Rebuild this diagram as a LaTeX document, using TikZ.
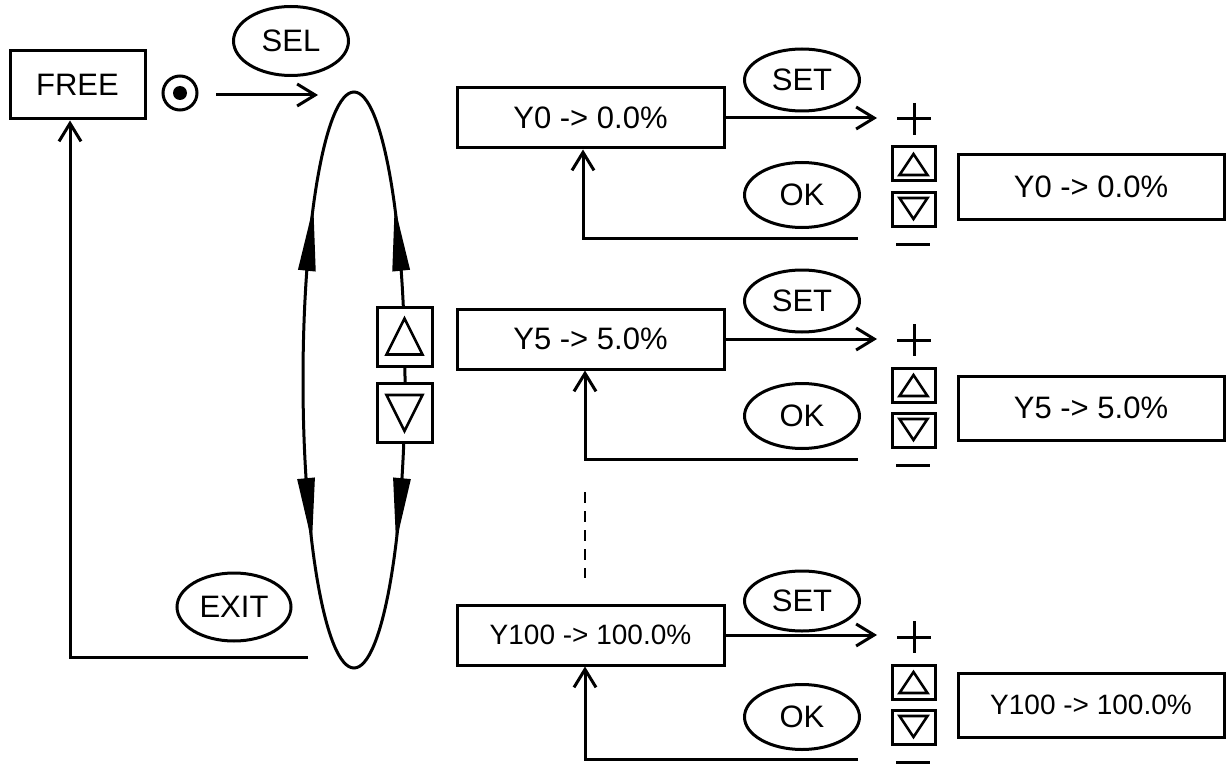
\documentclass[tikz,border=0pt]{standalone}
\usepackage{fontspec}
\setmainfont{Liberation Sans}
\usetikzlibrary{arrows.meta,shapes.geometric}

\begin{document}
\begin{tikzpicture}[x=1pt,y=-1pt,line width=3pt,
	every node/.style={font=\fontsize{31}{37}\selectfont, inner sep=0pt},
	box/.style={draw, minimum width=267pt, minimum height=60pt},
	shown/.style={draw, minimum width=266pt, minimum height=64pt},
	key/.style={draw, ellipse, minimum width=115pt, minimum height=64pt},
	btn/.style={draw, fill=white, minimum width=43pt, minimum height=34pt},
	bigbtn/.style={draw, fill=white, minimum width=55pt, minimum height=59pt},
	barb/.style={-{Straight Barb[length=18pt,width=22pt]}},
	bigtip/.style={-{Triangle[length=65pt,width=17pt]}},
	small/.style={font=\fontsize{28}{34}\selectfont}]
	\useasboundingbox (0,0) rectangle (1232,765);

	% left part
	\node [draw, minimum width=135pt, minimum height=68pt] (free) at (77.5,85) {FREE};
	\node [draw, circle, minimum size=34pt] (dot) at (180,93) {};
	\fill (dot.center) circle (7);
	\node [key, minimum height=69pt] (sel) at (291,41) {SEL};
	\node [key, minimum width=114pt, minimum height=68pt] (exit) at (234,607) {EXIT};
	\coordinate (s1) at (216,95);
	\coordinate (s2) at (318,95);
	\draw [barb] (s1) -- (s2);
	\coordinate (e1) at (308,657);
	\draw [barb] (e1) -| ([xshift=-7.5pt]free.south);

	% selection loop
	\node [draw, ellipse, minimum width=102pt, minimum height=576pt] (loop) at (354,380) {};
	\draw [bigtip] (401.2,271) -- (394.6,206);
	\draw [bigtip] (306.8,271) -- (313.4,206);
	\draw [bigtip] (402,478) -- (396,543);
	\draw [bigtip] (306,478) -- (312,543);
	\node [bigbtn] (up) at (404.5,336.5) {};
	\node [bigbtn] (down) at (404.5,413) {};
	\draw [shift={(up)}, line width=2.6pt] (-18,18) -- (18,18) -- (0,-18) -- cycle;
	\draw [shift={(down)}, line width=2.6pt] (-18,-18) -- (18,-18) -- (0,18) -- cycle;

	% Y0
	\node [box] (y0) at (590.5,118) {Y0 -> 0.0\%};
	\node [key, minimum height=62pt] (set0) at (802,80) {SET};
	\node [key, minimum height=65pt] (ok0) at (802,195) {OK};
	\coordinate (p0) at (877,118);
	\draw [barb] (y0) -- (p0);
	\draw (897,119) -- (931,119) (914,103) -- (914,135);
	\node [btn] (u0) at (913.5,164) {};
	\node [btn] (d0) at (913.5,209) {};
	\draw [shift={(u0)}, line width=2.6pt] (-14,11) -- (14,11) -- (0,-10) -- cycle;
	\draw [shift={(d0)}, line width=2.6pt] (-14,-11) -- (14,-11) -- (0,10) -- cycle;
	\draw (896,244) -- (930,244);
	\node [shown] (r0) at (1091,187) {Y0 -> 0.0\%};
	\coordinate (q0) at (858,238);
	\draw [barb] (q0) -| ([xshift=-7.5pt]y0.south);

	% Y5
	\node [box] (y5) at (590.5,339) {Y5 -> 5.0\%};
	\node [key, minimum height=62pt] (set5) at (802,301) {SET};
	\node [key, minimum height=65pt] (ok5) at (802,416) {OK};
	\coordinate (p5) at (877,339);
	\draw [barb] (y5) -- (p5);
	\draw (897,340) -- (931,340) (914,324) -- (914,356);
	\node [btn] (u5) at (913.5,385) {};
	\node [btn] (d5) at (913.5,430) {};
	\draw [shift={(u5)}, line width=2.6pt] (-14,11) -- (14,11) -- (0,-10) -- cycle;
	\draw [shift={(d5)}, line width=2.6pt] (-14,-11) -- (14,-11) -- (0,10) -- cycle;
	\draw (896,465) -- (930,465);
	\node [shown] (r5) at (1091,408) {Y5 -> 5.0\%};
	\coordinate (q5) at (858,459);
	\draw [barb] (q5) -| ([xshift=-5.5pt]y5.south);

	% dots between
	\coordinate (dtop) at (585,492);
	\coordinate (dbot) at (585,578);
	\draw [dash pattern=on 11pt off 8pt, line width=2.8pt] (dtop) -- (dbot);

	% Y100
	\node [box, small] (y100) at (590.5,635) {Y100 -> 100.0\%};
	\node [key, minimum height=60pt] (set100) at (802,601) {SET};
	\node [key, minimum height=65pt] (ok100) at (802,717) {OK};
	\coordinate (p100) at (877,635);
	\draw [barb] (y100) -- (p100);
	\draw (897,637) -- (931,637) (914,621) -- (914,653);
	\node [btn] (u100) at (913.5,682) {};
	\node [btn] (d100) at (913.5,727) {};
	\draw [shift={(u100)}, line width=2.6pt] (-14,11) -- (14,11) -- (0,-10) -- cycle;
	\draw [shift={(d100)}, line width=2.6pt] (-14,-11) -- (14,-11) -- (0,10) -- cycle;
	\draw (896,762) -- (930,762);
	\node [shown, small] (r100) at (1091,705) {Y100 -> 100.0\%};
	\coordinate (q100) at (858,759);
	\draw [barb] (q100) -| ([xshift=-5.5pt]y100.south);
\end{tikzpicture}
\end{document}
